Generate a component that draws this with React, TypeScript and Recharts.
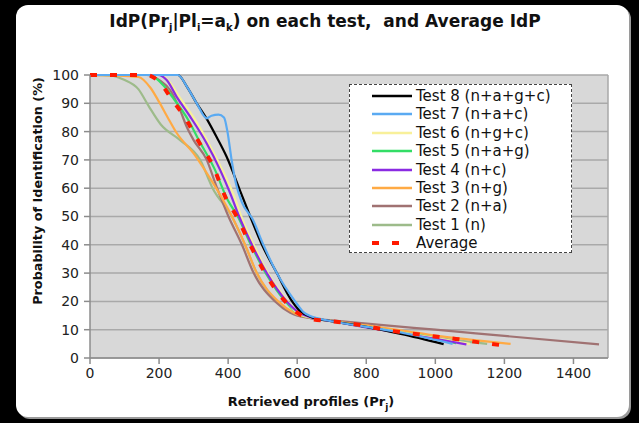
import React from 'react';
import { LineChart, Line, XAxis, YAxis, CartesianGrid, ReferenceLine } from 'recharts';

const xTicks = [0, 200, 400, 600, 800, 1000, 1200, 1400];
const yTicks = [0, 10, 20, 30, 40, 50, 60, 70, 80, 90, 100];

const test8 = [
  { x: 0, y: 100 }, { x: 150, y: 100 }, { x: 255, y: 100 }, { x: 280, y: 96 }, { x: 309, y: 90 },
  { x: 338, y: 84.5 }, { x: 367, y: 78 }, { x: 396, y: 71 }, { x: 435, y: 59 }, { x: 464, y: 50 },
  { x: 498, y: 40 }, { x: 541, y: 30 }, { x: 580, y: 21 }, { x: 605, y: 17 }, { x: 640, y: 14.5 },
  { x: 700, y: 13 }, { x: 800, y: 11 }, { x: 900, y: 8.5 }, { x: 1024, y: 4.9 },
];
const test7 = [
  { x: 0, y: 100 }, { x: 150, y: 100 }, { x: 255, y: 100 }, { x: 280, y: 96 }, { x: 309, y: 90 },
  { x: 338, y: 84.7 }, { x: 352, y: 85.6 }, { x: 372, y: 86 }, { x: 388, y: 85 }, { x: 398, y: 80 },
  { x: 410, y: 70 }, { x: 422, y: 62 }, { x: 440, y: 55 }, { x: 471, y: 49 }, { x: 502, y: 40 },
  { x: 541, y: 30 }, { x: 594, y: 20 }, { x: 620, y: 16 }, { x: 660, y: 14 }, { x: 700, y: 13 },
  { x: 800, y: 11 }, { x: 900, y: 9 }, { x: 1050, y: 5 },
];
const test6 = [
  { x: 0, y: 100 }, { x: 205, y: 100 }, { x: 230, y: 97.5 }, { x: 260, y: 92 }, { x: 300, y: 85 },
  { x: 345, y: 75.5 }, { x: 385, y: 66 }, { x: 415, y: 58 }, { x: 438, y: 50 }, { x: 474, y: 40 },
  { x: 515, y: 30 }, { x: 572, y: 20 }, { x: 600, y: 16 }, { x: 650, y: 14 }, { x: 700, y: 13 },
  { x: 800, y: 11 }, { x: 900, y: 9 }, { x: 1000, y: 7 }, { x: 1100, y: 5 },
];
const test5 = [
  { x: 0, y: 100 }, { x: 170, y: 100 }, { x: 215, y: 96 }, { x: 240, y: 92 }, { x: 285, y: 84 },
  { x: 315, y: 77 }, { x: 360, y: 67 }, { x: 398, y: 56 }, { x: 428, y: 50 }, { x: 466, y: 40 },
  { x: 509, y: 30 }, { x: 566, y: 20 }, { x: 600, y: 16 }, { x: 650, y: 14 }, { x: 700, y: 13 },
  { x: 800, y: 11 }, { x: 900, y: 9 }, { x: 1000, y: 7 }, { x: 1060, y: 5.2 },
];
const test4 = [
  { x: 0, y: 100 }, { x: 197, y: 100 }, { x: 222, y: 98.2 }, { x: 251, y: 92.3 }, { x: 290, y: 85.3 },
  { x: 338, y: 75.8 }, { x: 377, y: 66.4 }, { x: 406, y: 58.2 }, { x: 432, y: 50 }, { x: 469, y: 40 },
  { x: 512, y: 30 }, { x: 570, y: 20 }, { x: 600, y: 16.5 }, { x: 650, y: 14 }, { x: 700, y: 13 },
  { x: 800, y: 10.8 }, { x: 900, y: 8.8 }, { x: 1000, y: 6.8 }, { x: 1090, y: 4.8 },
];
const test3 = [
  { x: 0, y: 100 }, { x: 140, y: 99.3 }, { x: 175, y: 95.5 }, { x: 200, y: 90.5 }, { x: 225, y: 85 },
  { x: 251, y: 79.5 }, { x: 300, y: 72.3 }, { x: 340, y: 65 }, { x: 380, y: 57 }, { x: 411, y: 50 },
  { x: 449, y: 40 }, { x: 483, y: 30 }, { x: 545, y: 20 }, { x: 590, y: 16 }, { x: 650, y: 14 },
  { x: 700, y: 13 }, { x: 800, y: 11.5 }, { x: 900, y: 9.8 }, { x: 1005, y: 7.8 }, { x: 1100, y: 6.5 },
  { x: 1218, y: 5 },
];
const test2 = [
  { x: 0, y: 100 }, { x: 164, y: 100 }, { x: 203, y: 98 }, { x: 232, y: 94.7 }, { x: 261, y: 87.6 },
  { x: 280, y: 81.7 }, { x: 300, y: 77 }, { x: 338, y: 70 }, { x: 365, y: 61 }, { x: 401, y: 50 },
  { x: 440, y: 40 }, { x: 474, y: 30 }, { x: 536, y: 20 }, { x: 580, y: 16 }, { x: 640, y: 14 },
  { x: 700, y: 13.3 }, { x: 841, y: 11.7 }, { x: 1000, y: 10 }, { x: 1200, y: 7.8 }, { x: 1474, y: 4.8 },
];
const test1 = [
  { x: 0, y: 100 }, { x: 60, y: 99.8 }, { x: 97, y: 98.4 }, { x: 140, y: 95 }, { x: 170, y: 89 },
  { x: 205, y: 82.5 }, { x: 261, y: 77 }, { x: 319, y: 70 }, { x: 355, y: 60 }, { x: 411, y: 50 },
  { x: 449, y: 40 }, { x: 483, y: 30 }, { x: 540, y: 20 }, { x: 590, y: 16 }, { x: 650, y: 14 },
  { x: 700, y: 13 }, { x: 800, y: 11 }, { x: 900, y: 9 }, { x: 1000, y: 7.2 }, { x: 1150, y: 5 },
];
const average = [
  { x: 0, y: 100 }, { x: 164, y: 100 }, { x: 212, y: 95.9 }, { x: 232, y: 92.3 }, { x: 280, y: 84 },
  { x: 309, y: 77.6 }, { x: 357, y: 67.6 }, { x: 396, y: 55.8 }, { x: 425, y: 50 }, { x: 464, y: 40 },
  { x: 507, y: 30 }, { x: 565, y: 20 }, { x: 600, y: 16 }, { x: 633, y: 14 }, { x: 700, y: 13 },
  { x: 754, y: 12.2 }, { x: 879, y: 9.5 }, { x: 942, y: 8.5 }, { x: 1005, y: 7.5 }, { x: 1068, y: 6.6 },
  { x: 1128, y: 5.5 }, { x: 1187, y: 4.6 },
];

const seriesNames = [
  'Test 8 (n+a+g+c)', 'Test 7 (n+a+c)', 'Test 6 (n+g+c)', 'Test 5 (n+a+g)',
  'Test 4 (n+c)', 'Test 3 (n+g)', 'Test 2 (n+a)', 'Test 1 (n)', 'Average',
];
const seriesData = [test8, test7, test6, test5, test4, test3, test2, test1, average];
const colors = ['#000000', '#5aaaf2', '#f8f09a', '#33dd66', '#8a2be2', '#ffaa44', '#a07272', '#9dbb8a', '#ff1a00'];

const FONT = '"DejaVu Sans", Verdana, sans-serif';

export default function App() {
  const drawOrder = [7, 6, 5, 3, 2, 4, 0, 1, 8];
  return (
    <div style={{ position: 'fixed', left: 0, top: 0, width: 639, height: 423, background: '#000', overflow: 'hidden', fontFamily: FONT }}>
      <div style={{ position: 'absolute', left: 16, top: 5, width: 613, height: 412, background: '#fff', borderRadius: 12, boxShadow: '2px 2px 0 #9a9a9a' }} />
      <div style={{ position: 'absolute', left: 0, top: 0 }}>
        <LineChart width={639} height={423} margin={{ top: 75, right: 31, bottom: 35, left: 40 }}>
          <CartesianGrid vertical={false} fill="#d8d8d8" stroke="#a9a9a9" strokeWidth={1.5} />
          <XAxis
            type="number"
            dataKey="x"
            domain={[0, 1500]}
            ticks={xTicks}
            allowDataOverflow
            height={30}
            stroke="#8c8c8c"
            strokeWidth={1.5}
            tickSize={6}
            tick={{ fill: '#222', fontSize: 14, fontFamily: FONT }}
            tickMargin={4}
          />
          <YAxis
            type="number"
            domain={[0, 100]}
            ticks={yTicks}
            width={50}
            stroke="#8c8c8c"
            strokeWidth={1.5}
            tickSize={6}
            tick={{ fill: '#222', fontSize: 14, fontFamily: FONT }}
            tickMargin={5}
          />
          <ReferenceLine x={1500} stroke="#a9a9a9" strokeWidth={1.5} />
          {drawOrder.map((i) => (
            <Line
              key={seriesNames[i]}
              data={seriesData[i]}
              dataKey="y"
              name={seriesNames[i]}
              type="monotone"
              stroke={colors[i]}
              strokeWidth={i === 8 ? 4 : 2.2}
              strokeDasharray={i === 8 ? '7 13' : undefined}
              dot={false}
              activeDot={false}
              isAnimationActive={false}
            />
          ))}
        </LineChart>
      </div>
      <div style={{ position: 'absolute', left: 0, width: 650, top: 11, textAlign: 'center', fontWeight: 'bold', fontSize: 17, color: '#111', whiteSpace: 'pre' }}>
        IdP(Pr<sub style={{ fontSize: 10 }}>j</sub>|Pl<sub style={{ fontSize: 10 }}>i</sub>=a<sub style={{ fontSize: 10 }}>k</sub>) on each test,  and Average IdP
      </div>
      <div style={{ position: 'absolute', left: 38, top: 191, width: 0, height: 0 }}>
        <div style={{ position: 'absolute', left: -150, top: -8, width: 300, textAlign: 'center', transform: 'rotate(-90deg)', fontWeight: 'bold', fontSize: 12.8, color: '#111', lineHeight: '16px' }}>
          Probability of Identification (%)
        </div>
      </div>
      <div style={{ position: 'absolute', left: 161, width: 300, top: 394, textAlign: 'center', fontWeight: 'bold', fontSize: 13, color: '#111' }}>
        Retrieved profiles (Pr<sub style={{ fontSize: 9 }}>j</sub>)
      </div>
      <div style={{ position: 'absolute', left: 349, top: 84, width: 221, height: 167, background: '#fff', border: '1.5px dashed #444' }}>
        {seriesNames.map((n, i) => (
          <div key={n} style={{ position: 'absolute', left: 0, top: 2 + i * 18.4, height: 18, display: 'flex', alignItems: 'center' }}>
            <svg width={66} height={18}>
              <line x1={22} x2={62} y1={9} y2={9} stroke={colors[i]} strokeWidth={i === 8 ? 4 : 2.5} strokeDasharray={i === 8 ? '7 13' : undefined} />
            </svg>
            <span style={{ fontSize: 15, color: '#111', whiteSpace: 'pre' }}>{n}</span>
          </div>
        ))}
      </div>
    </div>
  );
}
